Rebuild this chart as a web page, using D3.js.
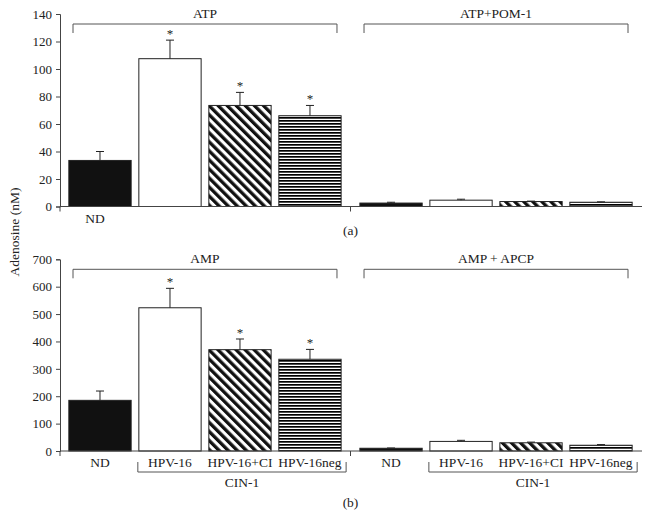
<!DOCTYPE html>
<html>
<head>
<meta charset="utf-8">
<script src="https://cdn.jsdelivr.net/npm/d3@7"></script>
<style>
  body { margin: 0; background: #fff; }
  text { font-family: "Liberation Serif", "Times New Roman", serif; fill: #222; }
</style>
</head>
<body>
<script>
// categories and groups
var categories = ["ND", "HPV-16", "HPV-16+CI", "HPV-16neg"];
var groupsTop = ["ATP", "ATP+POM-1"];
var groupsBottom = ["AMP", "AMP + APCP"];
var fills = ["black", "white", "diag", "horiz"];

// values (nM) and upper error (SEM)
var atpMean = [33.5, 107.5, 73.5, 66];
var atpErr = [6.5, 13.5, 9.5, 7.5];
var pomMean = [2.5, 4.6, 3.6, 3.1];
var pomErr = [0.6, 0.7, 0.3, 0.3];
var ampMean = [185, 523, 370, 335];
var ampErr = [34, 71, 39, 36];
var apcpMean = [10, 35, 30, 21];
var apcpErr = [1, 4, 2.5, 2.5];
var sigTop = [false, true, true, true];

var yTicksTop = [0, 20, 40, 60, 80, 100, 120, 140];
var yTicksBottom = [0, 100, 200, 300, 400, 500, 600, 700];

var width = 650, height = 519;
var svg = d3.select("body").append("svg")
    .attr("width", width)
    .attr("height", height);

var defs = svg.append("defs");
var diag = defs.append("pattern")
    .attr("id", "diag")
    .attr("patternUnits", "userSpaceOnUse")
    .attr("width", 6.4).attr("height", 6.4)
    .attr("patternTransform", "rotate(-45)");
diag.append("rect").attr("width", 6.4).attr("height", 6.4).attr("fill", "white");
diag.append("rect").attr("width", 3.3).attr("height", 6.4).attr("fill", "#111");

var horiz = defs.append("pattern")
    .attr("id", "horiz")
    .attr("patternUnits", "userSpaceOnUse")
    .attr("width", 4).attr("height", 3);
horiz.append("rect").attr("width", 4).attr("height", 3).attr("fill", "white");
horiz.append("rect").attr("width", 4).attr("height", 1.7).attr("fill", "#000");

function fillOf(f) {
    if (f == "black") return "#111";
    if (f == "white") return "white";
    return "url(#" + f + ")";
}

// horizontal layout shared by both panels
var xLeft = 60, xRight = 642;
var gx = d3.scaleBand().domain([0, 1]).range([65, 636]).paddingInner(0.038);
var x = d3.scaleBand().domain(categories).range([0, gx.bandwidth()])
    .paddingInner(0.11).paddingOuter(0.055);

function drawPanel(top, bottom, maxY, ticks, groups, means, errs, label, opts) {
    var y = d3.scaleLinear().domain([0, maxY]).range([bottom, top]);
    var g = svg.append("g");

    // y axis
    var yAxis = g.append("g")
        .attr("transform", "translate(" + xLeft + ",0)")
        .call(d3.axisLeft(y).tickValues(ticks).tickSize(4).tickPadding(4));
    yAxis.select(".domain").attr("stroke", "#444");
    yAxis.selectAll(".tick line").attr("stroke", "#444");
    yAxis.selectAll(".tick text")
        .style("font-family", "Liberation Serif")
        .style("font-size", "13px")
        .attr("fill", "#222");

    groups.forEach(function(grp, gi) {
        var g0 = gx(gi);
        var gg = g.append("g").attr("transform", "translate(" + g0 + ",0)");

        gg.selectAll("rect.bar")
            .data(categories)
            .enter().append("rect")
            .attr("class", "bar")
            .attr("x", function(d) { return x(d); })
            .attr("y", function(d, i) { return y(means[gi][i]); })
            .attr("width", x.bandwidth())
            .attr("height", function(d, i) { return bottom - y(means[gi][i]); })
            .attr("fill", function(d, i) { return fillOf(fills[i]); })
            .attr("stroke", "#222")
            .attr("stroke-width", 1);

        // error bars (upper only)
        var eb = gg.selectAll("g.err")
            .data(categories)
            .enter().append("g")
            .attr("class", "err");
        eb.append("line")
            .attr("x1", function(d) { return x(d) + x.bandwidth() / 2; })
            .attr("x2", function(d) { return x(d) + x.bandwidth() / 2; })
            .attr("y1", function(d, i) { return y(means[gi][i]); })
            .attr("y2", function(d, i) { return y(means[gi][i] + errs[gi][i]); })
            .attr("stroke", "#222");
        eb.append("line")
            .attr("x1", function(d) { return x(d) + x.bandwidth() / 2 - 4; })
            .attr("x2", function(d) { return x(d) + x.bandwidth() / 2 + 4; })
            .attr("y1", function(d, i) { return y(means[gi][i] + errs[gi][i]); })
            .attr("y2", function(d, i) { return y(means[gi][i] + errs[gi][i]); })
            .attr("stroke", "#222");

        if (gi == 0) {
            gg.selectAll("text.sig")
                .data(categories.filter(function(d, i) { return sigTop[i]; }))
                .enter().append("text")
                .attr("class", "sig")
                .attr("x", function(d) { return x(d) + x.bandwidth() / 2; })
                .attr("y", function(d) {
                    var i = categories.indexOf(d);
                    return y(means[gi][i] + errs[gi][i]) - 2;
                })
                .attr("text-anchor", "middle")
                .style("font-size", "13px")
                .attr("fill", "#555")
                .text("*");
        }

        // group bracket
        var by = top + 10, bx1 = 8, bx2 = gx.bandwidth() - 8;
        gg.append("path")
            .attr("d", "M" + bx1 + "," + (by + 9) + "V" + by + "H" + bx2 + "V" + (by + 9))
            .attr("fill", "none")
            .attr("stroke", "#555");
        gg.append("text")
            .attr("x", gx.bandwidth() / 2)
            .attr("y", top + 4)
            .attr("text-anchor", "middle")
            .style("font-size", "13.5px")
            .text(grp);

        if (opts.labels) {
            gg.selectAll("text.cat")
                .data(categories)
                .enter().append("text")
                .attr("class", "cat")
                .attr("x", function(d) { return x(d) + x.bandwidth() / 2; })
                .attr("y", bottom + 16)
                .attr("text-anchor", "middle")
                .style("font-size", "13.5px")
                .text(function(d) { return d; });
            // CIN-1 bracket
            var cx1 = x(categories[1]) - 1, cx2 = x(categories[3]) + x.bandwidth() + 5;
            gg.append("path")
                .attr("d", "M" + cx1 + "," + (bottom + 11) + "V" + (bottom + 21) + "H" + cx2 + "V" + (bottom + 11))
                .attr("fill", "none")
                .attr("stroke", "#555");
            gg.append("text")
                .attr("x", (cx1 + cx2) / 2)
                .attr("y", bottom + 36)
                .attr("text-anchor", "middle")
                .style("font-size", "13.5px")
                .text("CIN-1");
        }
    });

    // x axis with ticks at left end and group separator
    g.append("line")
        .attr("x1", xLeft).attr("x2", xRight)
        .attr("y1", bottom).attr("y2", bottom)
        .attr("stroke", "#444");
    var sep = (gx(0) + gx.bandwidth() + gx(1)) / 2;
    g.selectAll("line.xt")
        .data([xLeft, sep])
        .enter().append("line")
        .attr("class", "xt")
        .attr("x1", function(d) { return d; }).attr("x2", function(d) { return d; })
        .attr("y1", bottom).attr("y2", bottom + 5)
        .attr("stroke", "#444");

    if (!opts.labels) {
        g.append("text")
            .attr("x", gx(0) + x(categories[0]) + x.bandwidth() / 2 - 5)
            .attr("y", bottom + 16)
            .attr("text-anchor", "middle")
            .style("font-size", "13.5px")
            .text(categories[0]);
    }

    g.append("text")
        .attr("x", sep)
        .attr("y", opts.tagY)
        .attr("text-anchor", "middle")
        .style("font-size", "13.5px")
        .text(label);
}

drawPanel(14, 206.5, 140, yTicksTop, groupsTop, [atpMean, pomMean], [atpErr, pomErr], "(a)",
    { labels: false, tagY: 235 });
drawPanel(259.3, 451, 700, yTicksBottom, groupsBottom, [ampMean, apcpMean], [ampErr, apcpErr], "(b)",
    { labels: true, tagY: 507 });

svg.append("text")
    .attr("transform", "translate(19,232) rotate(-90)")
    .attr("text-anchor", "middle")
    .style("font-size", "13.5px")
    .text("Adenosine (nM)");
</script>
</body>
</html>
